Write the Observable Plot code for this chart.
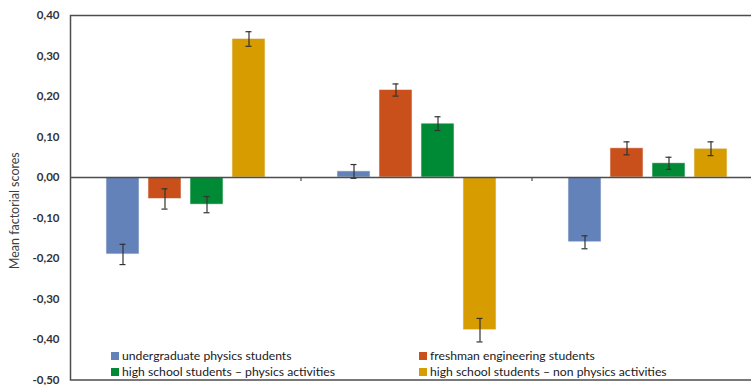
<!DOCTYPE html>
<html>
<head>
<meta charset="utf-8">
<script src="https://cdn.jsdelivr.net/npm/d3@7"></script>
<script src="https://cdn.jsdelivr.net/npm/@observablehq/plot@0.6"></script>
<style>
  body { margin: 0; background: #fff; font-family: Lato, "Open Sans", sans-serif; }
  #wrap { position: relative; width: 751px; height: 385px; overflow: hidden; }
  .legend { position: absolute; font-size: 12.2px; color: #1a1a1a; white-space: nowrap; line-height: 16px; }
  .legend span.sw { display: inline-block; width: 8px; height: 8px; margin-right: 3px; vertical-align: 0px; }
</style>
</head>
<body>
<div id="wrap"></div>
<script>
// ---- data ----
const groups = ["Factor 1", "Factor 2", "Factor 3"];
const series = [
  "undergraduate physics students",
  "freshman engineering students",
  "high school students – physics activities",
  "high school students – non physics activities"
];
const colors = ["#6482BA", "#C94F1B", "#008A35", "#D69C00"];
const undergradMeans   = [-0.190, 0.015, -0.160];
const freshmanMeans    = [-0.053, 0.216, 0.072];
const hsPhysicsMeans   = [-0.067, 0.133, 0.035];
const hsNonPhysMeans   = [0.342, -0.377, 0.071];
const undergradErr     = [0.025, 0.017, 0.016];
const freshmanErr      = [0.025, 0.015, 0.016];
const hsPhysicsErr     = [0.020, 0.017, 0.015];
const hsNonPhysErr     = [0.018, 0.029, 0.017];
const yTicks = [0.4, 0.3, 0.2, 0.1, 0, -0.1, -0.2, -0.3, -0.4, -0.5];
const yLabel = "Mean factorial scores";

const meansBySeries = [undergradMeans, freshmanMeans, hsPhysicsMeans, hsNonPhysMeans];
const errBySeries = [undergradErr, freshmanErr, hsPhysicsErr, hsNonPhysErr];
const table = [];
groups.forEach((g, gi) => series.forEach((s, si) => {
  const v = meansBySeries[si][gi], e = errBySeries[si][gi];
  table.push({group: g, series: s, value: v, lo: v - e, hi: v + e});
}));

const fmt = d => d.toFixed(2).replace(".", ",");
const axisColor = "#4d4d4d";

const chart = Plot.plot({
  width: 751,
  height: 385,
  marginLeft: 69,
  marginRight: -12,
  marginTop: 15,
  marginBottom: 5.5,
  style: {fontFamily: "Lato, sans-serif", overflow: "visible"},
  fx: {domain: groups, padding: 0, axis: null},
  x: {domain: series, paddingInner: 0.214, paddingOuter: 0.857, axis: null},
  y: {domain: [-0.5, 0.4]},
  color: {domain: series, range: colors},
  marks: [
    Plot.axisY({
      ticks: yTicks, tickFormat: fmt, tickSize: 0, tickPadding: 11,
      label: null, fontSize: 11.5, fontWeight: "bold", fill: "#333"
    }),
    Plot.barY(table, {fx: "group", x: "series", y: "value", fill: "series", stroke: "#f0f0f0", strokeWidth: 0.6}),
    Plot.ruleY([0], {stroke: axisColor, strokeWidth: 1.5}),
    Plot.ruleX(table, {fx: "group", x: "series", y1: "lo", y2: "hi", stroke: "#333", strokeWidth: 1.2}),
    Plot.tickY(table, {fx: "group", x: "series", y: "lo", stroke: "#333", strokeWidth: 1.2, insetLeft: 13.5, insetRight: 13.5}),
    Plot.tickY(table, {fx: "group", x: "series", y: "hi", stroke: "#333", strokeWidth: 1.2, insetLeft: 13.5, insetRight: 13.5}),
    Plot.frame({facet: "super", stroke: axisColor, strokeWidth: 1.5}),
    Plot.text([yLabel], {facet: "super", frameAnchor: "left", text: d => d, rotate: -90, dx: -56, dy: 13, fontSize: 12.5, fill: "#404040", textAnchor: "middle"})
  ]
});

document.getElementById("wrap").appendChild(chart);

// category boundary ticks on the zero line, positioned with the fx scale
const fx = chart.scale("fx");
const yS = chart.scale("y");
const svg = d3.select(chart);
const y0 = yS.apply(0);
groups.slice(0, -1).forEach(g => {
  const xb = fx.apply(g) + fx.bandwidth;
  svg.append("line").attr("x1", xb).attr("x2", xb).attr("y1", y0).attr("y2", y0 + 4)
    .attr("stroke", axisColor).attr("stroke-width", 1.2);
});

// legend inside the plot area
const legendPos = [[111, 348], [419, 348], [111, 364], [419, 364]];
series.forEach((s, i) => {
  const div = document.createElement("div");
  div.className = "legend";
  div.style.left = legendPos[i][0] + "px";
  div.style.top = legendPos[i][1] + "px";
  div.innerHTML = `<span class="sw" style="background:${colors[i]}"></span>${s}`;
  document.getElementById("wrap").appendChild(div);
});
</script>
</body>
</html>
